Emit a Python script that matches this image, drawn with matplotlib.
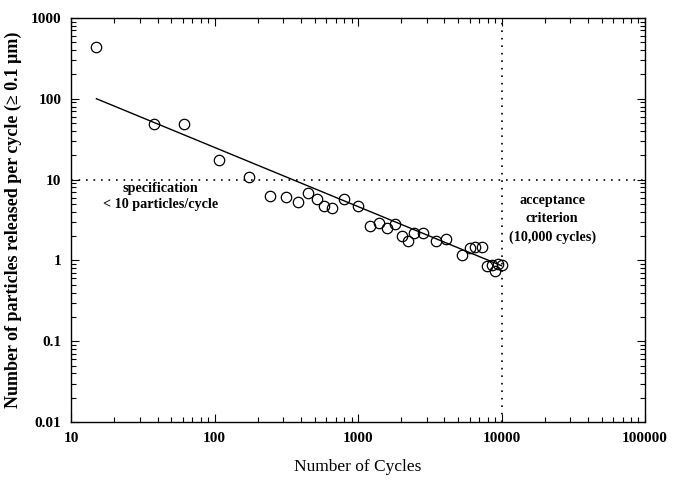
import matplotlib
matplotlib.use('Agg')
import matplotlib.pyplot as plt
import numpy as np

plt.rcParams['font.family'] = ['Liberation Serif', 'DejaVu Serif']

# measured points (cycles, particles per cycle)
cycles = [15, 38, 61, 107, 175, 244, 313, 380, 449, 515, 582, 656, 795, 1004,
          1208, 1401, 1600, 1803, 2029, 2245, 2456, 2851, 3477, 4083, 5331,
          6028, 6572, 7280, 7960, 8590, 8970, 9510, 10100]
particles = [440, 48, 48.3, 17.6, 10.9, 6.33, 6.1, 5.28, 6.89, 5.8, 4.68, 4.49,
             5.8, 4.75, 2.64, 2.88, 2.49, 2.80, 2.02, 1.75, 2.20, 2.20, 1.75,
             1.86, 1.16, 1.42, 1.47, 1.48, 0.86, 0.87, 0.74, 0.90, 0.87]

# fitted trend line end points
fit_x = [15, 10000]
fit_y = [100, 0.86]

spec_limit = 10
accept_cycles = 10000

fig = plt.figure(figsize=(6.84, 4.83), dpi=100)
ax = fig.add_axes([0.104, 0.126, 0.839, 0.837])

ax.plot(fit_x, fit_y, color='black', lw=1.0)
ax.plot(cycles, particles, linestyle='none', marker='o', markersize=7.5,
        markerfacecolor='none', markeredgecolor='black', markeredgewidth=0.9)

ax.axhline(spec_limit, color='black', lw=1.2, linestyle=(0, (1, 3.5)))
ax.axvline(accept_cycles, color='black', lw=1.2, linestyle=(0, (1, 3.5)))

ax.set_xscale('log')
ax.set_yscale('log')
ax.set_xlim(10, 100000)
ax.set_ylim(0.01, 1000)

ax.set_xticks([10, 100, 1000, 10000, 100000])
ax.set_xticklabels(['10', '100', '1000', '10000', '100000'])
ax.set_yticks([0.01, 0.1, 1, 10, 100, 1000])
ax.set_yticklabels(['0.01', '0.1', '1', '10', '100', '1000'])

ax.tick_params(which='both', direction='in', top=True, right=True, width=0.8)
ax.tick_params(which='major', length=6, labelsize=11, pad=7)
ax.tick_params(which='minor', length=3.5)
for lab in ax.get_xticklabels() + ax.get_yticklabels():
    lab.set_fontweight('bold')
for s in ax.spines.values():
    s.set_linewidth(1.0)

ax.set_xlabel('Number of Cycles', fontsize=12.5, labelpad=10)
ax.set_ylabel('Number of particles released per cycle (\u2265 0.1 \u00b5m)',
              fontsize=13, fontweight='bold', labelpad=6)

ax.text(42, 6.1, 'specification\n< 10 particles/cycle', ha='center', va='center',
        fontsize=10.2, fontweight='bold', linespacing=1.3)
ax.text(22500, 3.25, 'acceptance\ncriterion\n(10,000 cycles)', ha='center',
        va='center', fontsize=10.2, fontweight='bold', linespacing=1.55)

fig.savefig('out.png', dpi=100)
